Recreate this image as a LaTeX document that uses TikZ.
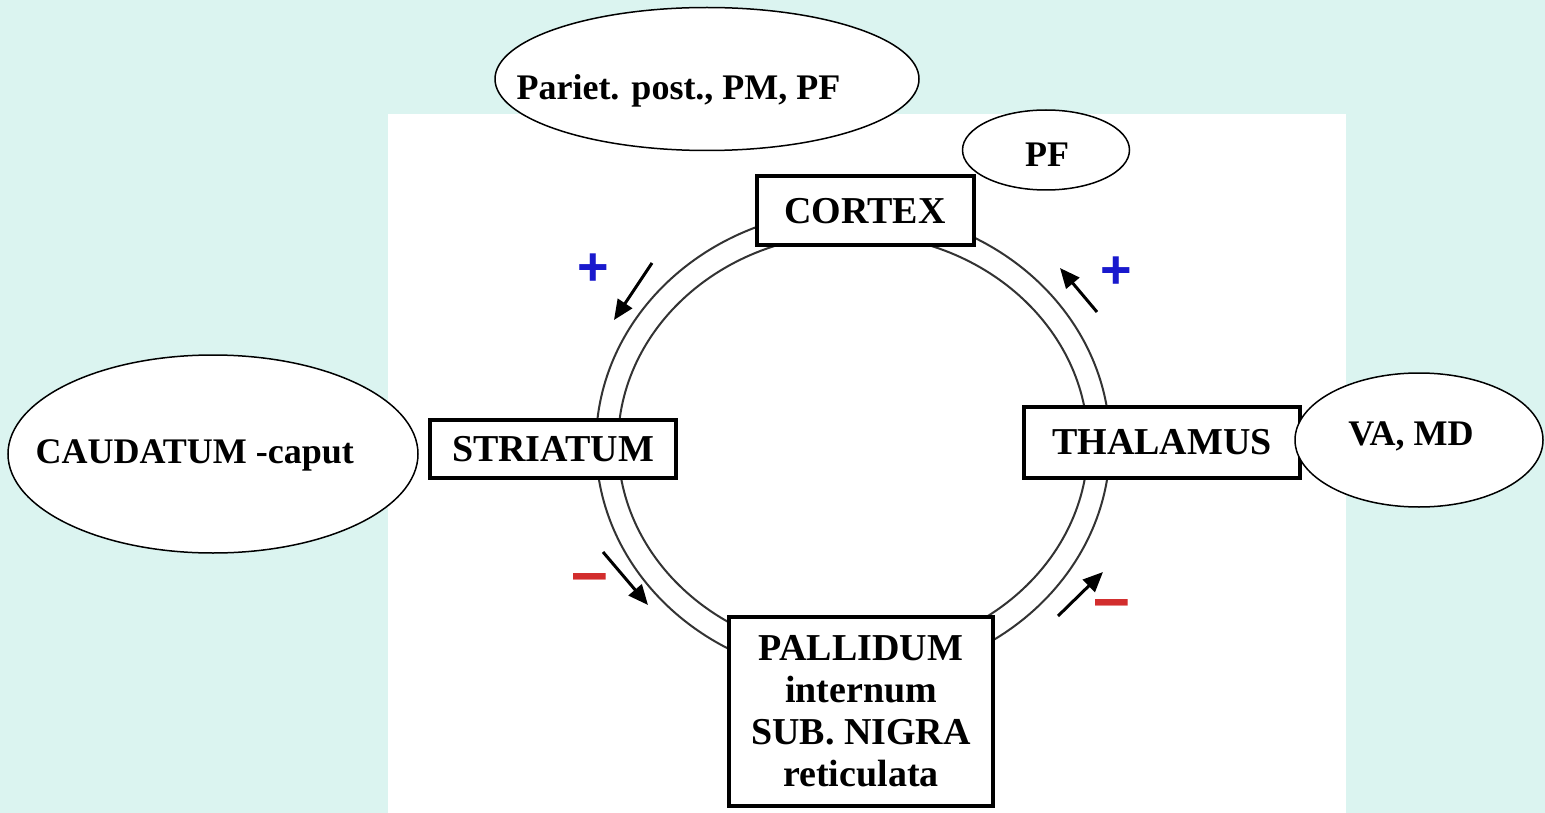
\documentclass[tikz,border=0pt]{standalone}
\usepackage{fontspec}
\setmainfont{Liberation Serif}
\newfontfamily\signfont{Liberation Sans}
\usetikzlibrary{
    shapes.geometric,
    arrows.meta
}
\definecolor{slidebg}{RGB}{219,244,240}
\definecolor{plusblue}{RGB}{25,25,205}
\definecolor{minusred}{RGB}{210,45,45}
\tikzset{
    >={Triangle[length=20pt,width=17pt]},
    nucleus/.style={
        draw,
        line width=4pt,
        fill=white,
        align=center,
        inner sep=0pt,
        font=\fontsize{38}{42}\selectfont\bfseries
    },
    area/.style={
        ellipse,
        draw,
        line width=1.5pt,
        fill=white,
        inner sep=0pt
    },
    areatext/.style={
        font=\fontsize{36}{40}\selectfont\bfseries
    },
    ring/.style={
        line width=2pt,
        black!80
    },
    pathway/.style={
        ->,
        line width=3pt
    },
    plussign/.style={
        text=plusblue,
        font=\fontsize{54}{54}\selectfont\signfont\bfseries
    },
    minussign/.style={
        text=minusred,
        font=\fontsize{66}{66}\selectfont\signfont\bfseries
    }
}

\begin{document}
\begin{tikzpicture}[
    x=1pt,
    y=-1pt
]

    % Fondo
    \fill[slidebg] (0,0) rectangle (1545,813);
    \fill[white] (388,114) rectangle (1346,813);

    % Circuito (doble linea)
    \draw[ring] (853,444) ellipse [x radius=257, y radius=234];
    \draw[ring] (853,444) ellipse [x radius=235, y radius=210];

    % Nucleos
    \node[nucleus, minimum width=217pt, minimum height=69pt]
        (cortex)   at (865,211) {CORTEX};
    \node[nucleus, minimum width=246pt, minimum height=58pt]
        (striatum) at (553,449) {STRIATUM};
    \node[nucleus, minimum width=276pt, minimum height=71pt]
        (thalamus) at (1162,442) {THALAMUS};
    \node[nucleus, minimum width=264pt, minimum height=189pt]
        (pallidum) at (861,711)
        {PALLIDUM\\internum\\SUB. NIGRA\\reticulata};

    % Flechas del circuito
    \coordinate (c1) at (652,263);  \coordinate (s1) at (614,320);
    \coordinate (s2) at (603,552);  \coordinate (p1) at (648,605);
    \coordinate (p2) at (1058,616); \coordinate (t1) at (1103,572);
    \coordinate (t2) at (1097,312); \coordinate (c2) at (1060,268);
    \draw[pathway] (c1) -- (s1);
    \draw[pathway] (s2) -- (p1);
    \draw[pathway] (p2) -- (t1);
    \draw[pathway] (t2) -- (c2);

    % Signos
    \node[plussign]  (plusL)  at (593,270)  {+};
    \node[plussign]  (plusR)  at (1116,273) {+};
    \node[minussign] (minusL) at (590,584)  {–};
    \node[minussign] (minusR) at (1112,610) {–};

    % Areas
    \node[area, minimum width=424pt, minimum height=143pt]
        (parietal) at (707,79) {};
    \node[areatext, anchor=base west] (parietaltext) at (513,100)
        {Pariet. post., PM, PF};

    \node[area, minimum width=167pt, minimum height=80pt]
        (pf) at (1046,150) {};
    \node[areatext, anchor=base] (pftext) at (1047,167) {PF};

    \node[area, minimum width=410pt, minimum height=198pt]
        (caudatum) at (213,454) {};
    \node[areatext, anchor=base west] (caudatumtext) at (32,463)
        {CAUDATUM -caput};

    \node[area, minimum width=248pt, minimum height=134pt]
        (vamd) at (1419,440) {};
    \node[areatext, anchor=base] (vamdtext) at (1411,445) {VA, MD};

\end{tikzpicture}
\end{document}
